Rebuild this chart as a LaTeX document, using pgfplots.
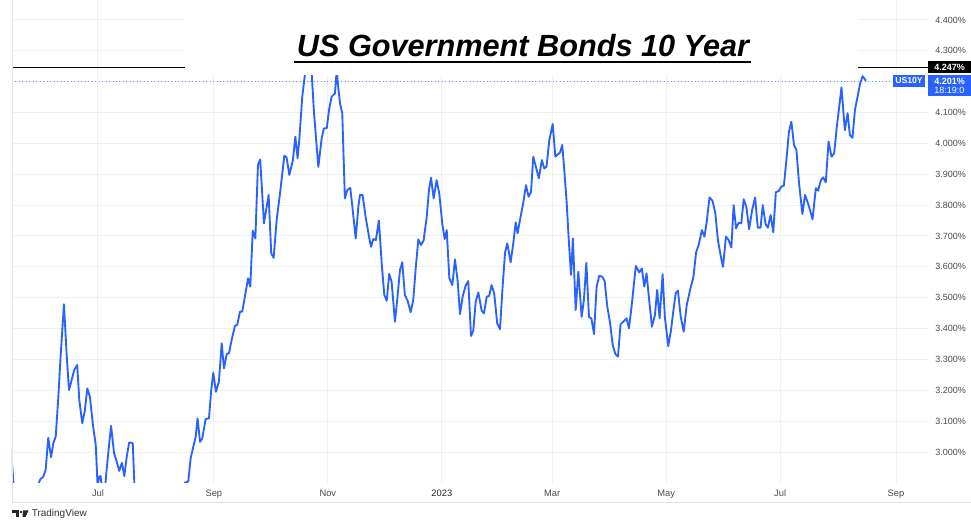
\documentclass[border=0pt]{standalone}
\usepackage{pgfplots}
\pgfplotsset{compat=1.18}
\usepackage{fontspec}
\setmainfont{Liberation Sans}
\definecolor{tvblue}{HTML}{2962FF}
\definecolor{gridc}{HTML}{EEF0F4}
\definecolor{framec}{HTML}{E0E3EB}
\definecolor{labc}{HTML}{4A4A4A}

% US 10Y yield, x = days since 1 Jul 2022, y = yield in %
\pgfplotstableread{
x y
-46.5 3.010
-44.9 2.870
-39.1 2.810
-32.6 2.860
-31.4 2.904
-30.8 2.912
-29.3 2.920
-28.0 2.942
-26.6 3.046
-25.1 2.983
-23.9 3.028
-22.6 3.050
-21.2 3.179
-20.0 3.309
-18.2 3.479
-16.7 3.309
-15.5 3.201
-14.1 3.233
-12.7 3.266
-11.1 3.282
-10.0 3.169
-8.4 3.093
-7.0 3.136
-5.7 3.206
-4.3 3.179
-2.8 3.093
-1.2 3.023
-0.2 2.890
0.7 2.920
1.4 2.922
2.1 2.883
3.9 2.890
4.7 2.947
5.5 2.996
7.0 3.085
8.6 2.996
10.0 2.969
11.4 2.939
12.8 2.965
14.1 2.922
15.4 2.985
16.7 3.031
18.6 3.029
19.6 2.877
22.5 2.747
27.8 2.650
33.2 2.715
38.5 2.618
42.8 2.780
46.5 2.901
48.3 2.904
49.6 2.980
51.0 3.017
52.3 3.050
53.3 3.109
54.6 3.033
55.8 3.044
57.6 3.107
59.4 3.109
60.5 3.195
61.7 3.257
63.1 3.195
64.7 3.228
66.2 3.352
67.4 3.271
68.9 3.318
70.1 3.320
71.5 3.363
73.3 3.409
74.5 3.412
76.0 3.455
77.2 3.455
78.6 3.503
80.3 3.563
81.5 3.536
82.8 3.717
84.2 3.692
85.6 3.930
86.8 3.948
88.8 3.741
91.3 3.833
92.7 3.644
94.0 3.629
95.6 3.752
97.4 3.838
99.7 3.960
100.9 3.955
102.4 3.898
104.3 3.946
105.6 4.022
106.8 3.952
107.7 4.011
109.3 4.151
110.7 4.222
111.8 4.264
113.7 4.238
114.4 4.222
115.6 4.098
117.9 3.924
119.7 4.017
120.9 4.049
122.4 4.049
123.6 4.108
125.0 4.151
126.8 4.162
127.7 4.235
128.6 4.179
129.5 4.130
130.7 4.098
132.1 3.822
133.4 3.849
135.0 3.856
136.3 3.784
137.9 3.692
139.3 3.795
140.2 3.833
141.6 3.833
143.2 3.762
145.0 3.698
146.1 3.665
147.3 3.690
148.7 3.687
150.3 3.750
151.8 3.611
153.2 3.509
154.5 3.490
155.8 3.577
157.1 3.552
158.9 3.422
160.1 3.493
161.6 3.590
162.8 3.615
164.2 3.509
165.7 3.490
167.3 3.453
168.7 3.493
170.0 3.595
171.4 3.689
172.8 3.671
174.2 3.685
175.9 3.762
177.1 3.849
178.2 3.889
179.6 3.822
181.2 3.881
182.6 3.838
184.2 3.741
185.5 3.690
186.6 3.719
188.0 3.563
189.6 3.541
191.0 3.624
192.4 3.557
193.7 3.447
195.1 3.503
196.7 3.539
198.1 3.554
199.6 3.376
200.8 3.393
202.1 3.487
203.5 3.517
205.3 3.458
206.5 3.449
208.0 3.503
209.3 3.506
210.6 3.541
212.0 3.514
213.6 3.417
215.1 3.398
216.5 3.536
217.8 3.646
219.0 3.676
220.8 3.615
222.2 3.676
223.5 3.744
224.5 3.709
226.1 3.762
227.5 3.806
229.0 3.865
230.4 3.827
231.7 3.843
232.9 3.957
234.6 3.917
235.9 3.887
237.5 3.946
238.8 3.919
240.0 3.925
241.5 4.011
243.3 4.063
244.7 3.957
246.3 3.966
247.2 3.970
248.4 3.995
249.5 3.914
250.8 3.806
252.0 3.676
253.1 3.574
254.1 3.692
255.6 3.460
257.0 3.584
258.8 3.438
260.0 3.493
261.3 3.613
262.7 3.438
264.0 3.433
265.4 3.382
266.8 3.536
268.2 3.571
269.8 3.568
271.1 3.554
272.5 3.471
273.9 3.422
275.4 3.347
276.8 3.318
278.2 3.309
279.6 3.414
281.0 3.422
282.8 3.433
284.1 3.401
285.5 3.471
286.6 3.536
287.8 3.603
289.6 3.582
291.0 3.595
292.3 3.536
293.5 3.579
294.9 3.493
296.4 3.406
298.0 3.444
299.2 3.525
300.5 3.433
302.1 3.576
303.3 3.438
305.1 3.343
306.6 3.395
307.8 3.455
309.1 3.514
310.3 3.523
311.8 3.438
313.4 3.390
315.0 3.476
316.8 3.525
318.6 3.568
320.0 3.646
321.6 3.676
323.1 3.719
324.5 3.698
325.6 3.741
327.2 3.825
328.8 3.814
330.3 3.774
331.7 3.687
333.2 3.635
334.4 3.600
336.0 3.698
337.4 3.687
338.9 3.663
340.1 3.800
341.4 3.725
342.8 3.743
344.2 3.741
345.5 3.819
346.9 3.795
348.4 3.722
350.0 3.784
351.6 3.825
353.0 3.727
354.5 3.727
355.7 3.800
357.2 3.738
358.4 3.727
359.9 3.768
361.3 3.712
362.7 3.842
364.3 3.846
365.6 3.860
367.0 3.863
368.5 3.957
369.7 4.038
371.0 4.070
372.4 3.995
373.7 3.979
375.1 3.871
376.9 3.771
378.3 3.833
379.9 3.806
381.0 3.784
382.3 3.754
384.1 3.855
385.3 3.847
386.8 3.881
388.0 3.890
389.4 3.874
390.9 4.006
392.5 3.957
393.9 3.968
395.3 4.054
396.6 4.119
397.8 4.182
399.6 4.043
401.1 4.098
402.3 4.027
403.7 4.018
405.0 4.108
406.4 4.151
407.8 4.195
409.1 4.218
410.9 4.203
}\usyield

\begin{document}
\begin{tikzpicture}
\begin{axis}[
  at={(9pt,30pt)}, anchor=south west,
  scale only axis, width=687pt, height=362.25pt,
  xmin=-46.0, xmax=444.1, ymin=2.8996, ymax=4.4648,
  axis line style={draw=none},
  major tick length=0pt,
  grid=major,
  major grid style={gridc, line width=0.75pt},
  xtick={0,62,123,184,243,304,365,427},
  xticklabels={Jul,Sep,Nov,\textcolor{black!85}{2023},Mar,May,Jul,Sep},
  xticklabel style={font=\fontsize{7}{8}\selectfont, text=labc, anchor=base, yshift=-10.5pt},
  ytick={3.0,3.1,3.2,3.3,3.4,3.5,3.6,3.7,3.8,3.9,4.0,4.1,4.2,4.3,4.4},
  yticklabels={3.000\%,3.100\%,3.200\%,3.300\%,3.400\%,3.500\%,3.600\%,3.700\%,3.800\%,3.900\%,4.000\%,4.100\%,4.200\%,4.300\%,4.400\%},
  yticklabel pos=right,
  yticklabel style={font=\fontsize{6.75}{8}\selectfont, text=labc, anchor=west, inner sep=0pt, xshift=5.25pt},
  clip=true,
]
\draw[black, line width=0.75pt] (axis cs:-46.0,4.247) -- (axis cs:444.1,4.247);
\draw[tvblue!70, line width=0.6pt, dotted] (axis cs:-46.0,4.201) -- (axis cs:425.3,4.201);
\addplot[tvblue, line width=1.4pt, line join=round] table[x=x, y=y] {\usyield};
\end{axis}

\begin{scope}[x=0.75pt, y=0.75pt]
  % frame of the chart pane
  \draw[framec, line width=0.75pt] (12,20) -- (12,523);
  \draw[framec, line width=0.75pt] (12,20) -- (971,20);
  % white box behind the title
  \fill[white] (185,448) rectangle (858,523);
  \node[anchor=base, inner sep=0pt, font=\fontsize{23}{27}\selectfont\bfseries\itshape] at (523,466) {US Government Bonds 10 Year};
  \draw[black, line width=1.1pt] (294,461) -- (751,461);
  % price tags
  \fill[black] (928,450) rectangle (971,462);
  \node[anchor=west, inner sep=0pt, text=white, font=\fontsize{6.75}{8}\selectfont\bfseries] at (934,456) {4.247\%};
  \fill[tvblue] (928,427) rectangle (971,448);
  \node[anchor=west, inner sep=0pt, text=white, font=\fontsize{6.75}{8}\selectfont\bfseries] at (934,442) {4.201\%};
  \node[anchor=west, inner sep=0pt, text=white, font=\fontsize{6.75}{8}\selectfont] at (934,433) {18:19:0};
  \fill[tvblue] (893,436) rectangle (925,448);
  \node[inner sep=0pt, text=white, font=\fontsize{6.5}{8}\selectfont\bfseries] at (909,442) {US10Y};
  % TradingView logo
  \fill[black!85] (12,10) rectangle (19,12.5);
  \fill[black!85] (16,6) rectangle (19,12.5);
  \fill[black!85] (21,11) circle (1.3);
  \fill[black!85] (23,12.5) -- (28.5,12.5) -- (25.5,6) -- (22.5,6) -- cycle;
  \node[anchor=west, inner sep=0pt, text=black!80, font=\fontsize{7.5}{9}\selectfont] at (31.5,9) {TradingView};
\end{scope}
\pgfresetboundingbox
\path[use as bounding box] (0,0) rectangle (728.25pt,392.25pt);
\end{tikzpicture}
\end{document}
